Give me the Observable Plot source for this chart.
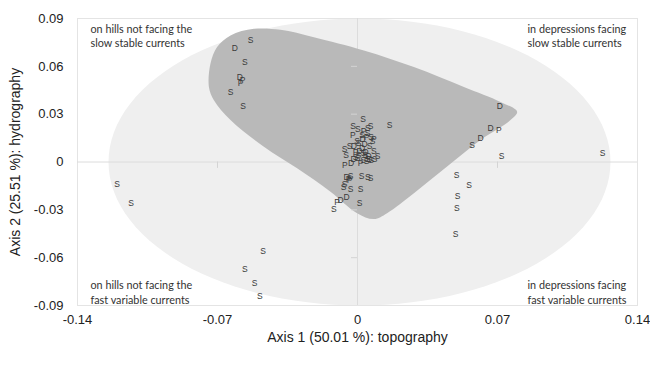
<!DOCTYPE html>
<html>
<head>
<meta charset="utf-8">
<script src="https://cdn.jsdelivr.net/npm/d3@7"></script>
<script src="https://cdn.jsdelivr.net/npm/@observablehq/plot@0.6"></script>
<style>
  body { margin: 0; background: #fff; }
  #chart svg { display: block; }
</style>
</head>
<body>
<div id="chart"></div>
<script>
// --- data ---
const xTicks = [-0.14, -0.07, 0, 0.07, 0.14];
const yTicks = [-0.09, -0.06, -0.03, 0, 0.03, 0.06, 0.09];
const xTitle = "Axis 1 (50.01 %): topography";
const yTitle = "Axis 2 (25.51 %): hydrography";

// sample labels and PCA coordinates
const labels = [
  "S","D","S","D","P","P","S","S",
  "D","D","P","D","S","S","S",
  "S","S","S","S","S",
  "S","S","S","S","S","S",
  "S","S","S","S","S","P","S","P","S","P","S","S","D","D","S","S","D","S","S","P","D","S","S","D","S","S","S","S","D","P","S","S","S","S","S","D","D","P","S","S","S",
  "S","D","S","P","S","D","S","D","S","P","S","D","S","P","S","D","S","S","P","S"
];
const xs = [
  -0.0535,-0.0613,-0.0563,-0.0588,-0.0575,-0.0585,-0.0635,-0.0572,
  0.0712,0.0665,0.0707,0.0615,0.0573,0.0720,0.1225,
  0.0495,0.0558,0.0500,0.0497,0.0490,
  -0.1202,-0.1132,-0.0472,-0.0563,-0.0515,-0.0488,
  0.0028,0.0160,-0.0022,0.0002,0.0052,-0.0023,0.0023,0.0045,0.0068,0.0082,0.0075,-0.0002,-0.0018,0.0023,-0.0065,-0.0057,0.0010,0.0030,0.0082,-0.0063,-0.0032,0.0028,0.0050,0.0060,0.0068,-0.0010,-0.0035,0.0052,-0.0055,-0.0045,0.0065,-0.0065,-0.0035,-0.0070,0.0015,-0.0055,-0.0085,-0.0102,-0.0118,0.0010,0.0100,
  0.0005,0.0035,0.0060,-0.0010,0.0040,0.0055,0.0000,-0.0020,0.0045,0.0015,0.0085,0.0025,0.0050,0.0030,0.0065,0.0040,-0.0040,0.0020,-0.0040,0.0005
];
const ys = [
  0.0763,0.0715,0.0623,0.0529,0.0515,0.0495,0.0435,0.0352,
  0.0350,0.0210,0.0200,0.0148,0.0106,0.0038,0.0056,
  -0.0081,-0.0148,-0.0213,-0.0288,-0.0456,
  -0.0140,-0.0258,-0.0560,-0.0671,-0.0763,-0.0842,
  0.0267,0.0233,0.0221,0.0206,0.0210,0.0165,0.0169,0.0154,0.0158,0.0144,0.0130,0.0127,0.0096,0.0085,0.0081,0.0044,0.0070,0.0055,0.0065,-0.0019,-0.0008,0.0013,0.0020,0.0015,0.0013,0.0030,-0.0092,-0.0096,-0.0098,-0.0108,-0.0100,-0.0140,-0.0169,-0.0160,-0.0171,-0.0223,-0.0238,-0.0254,-0.0296,-0.0258,0.0038,
  0.0120,0.0110,0.0100,0.0060,0.0040,0.0035,0.0025,0.0020,0.0005,-0.0005,0.0020,0.0140,0.0180,0.0190,0.0225,0.0060,0.0100,-0.0090,-0.0115,0.0045
];

// shaded envelope of the samples
const hullX = [-0.0743,-0.0735,-0.0702,-0.0635,-0.0518,-0.0385,-0.0218,0.0032,0.0282,0.0532,0.0715,0.0798,0.0765,0.0615,0.0448,0.0282,0.0148,0.0082,-0.0002,-0.0135,-0.0302,-0.0468,-0.0635,-0.0718];
const hullY = [0.0471,0.0617,0.0721,0.0794,0.0835,0.0829,0.0783,0.0700,0.0596,0.0471,0.0377,0.0315,0.0263,0.0138,-0.0029,-0.0196,-0.0321,-0.0358,-0.0321,-0.0186,-0.0039,0.0096,0.0263,0.0388];

// background ellipse: centre and radii (data units)
const ellipseCenter = [0.001, 0];
const ellipseRadii = [0.1255, 0.09];

// quadrant captions
const captionTL = "on hills not facing the\nslow stable currents";
const captionTR = "in depressions facing\nslow stable currents";
const captionBL = "on hills not facing the\nfast variable currents";
const captionBR = "in depressions facing\nfast variable currents";

// --- build ---
const points = labels.map((l, i) => ({label: l, x: xs[i], y: ys[i]}));
const hull = hullX.map((x, i) => ({x, y: hullY[i]}));
const ell = d3.range(0, 360, 3).map(a => {
  const t = a * Math.PI / 180;
  return {x: ellipseCenter[0] + ellipseRadii[0] * Math.cos(t), y: ellipseCenter[1] + ellipseRadii[1] * Math.sin(t)};
});

const font = "'Liberation Sans', Arial, sans-serif";
const capFont = "Lato, 'Open Sans', sans-serif";
const fmt = d => d === 0 ? "0" : String(d);
const cap = (t, anchor, dx, dy) => Plot.text([t], {frameAnchor: anchor, text: d => d, fontSize: 10.8, lineHeight: 1.35,
  fontFamily: capFont, fill: "#333", dx, dy, textAnchor: "start"});

const chart = Plot.plot({
  width: 650,
  height: 352,
  marginLeft: 77,
  marginRight: 13,
  marginTop: 18,
  marginBottom: 47,
  style: {fontFamily: font, background: "#fff"},
  x: {domain: [-0.14, 0.14]},
  y: {domain: [-0.09, 0.09]},
  marks: [
    Plot.line(ell, {x: "x", y: "y", fill: "#efefef", stroke: "none", curve: "linear-closed"}),
    Plot.frame({stroke: "#e4e4e4"}),
    Plot.ruleX([0], {stroke: "#dcdcdc"}),
    Plot.ruleY([0], {stroke: "#dcdcdc"}),
    Plot.line(hull, {x: "x", y: "y", fill: "#b9b9b9", stroke: "none", curve: "catmull-rom-closed"}),
    Plot.ruleX([-0.07, 0.07], {y1: 0, y2: -0.004, stroke: "#d4d4d4"}),
    Plot.ruleY([-0.06, -0.03, 0.03, 0.06], {x1: 0, x2: -0.003, stroke: "#d4d4d4"}),
    Plot.text(points, {x: "x", y: "y", text: "label", fontSize: 8.5, fill: "#3a3a3a", fontFamily: font}),
    Plot.axisX({ticks: xTicks, tickFormat: fmt, tickSize: 0, tickPadding: 9, fontSize: 13, label: null, fill: "#222"}),
    Plot.axisY({ticks: yTicks, tickFormat: fmt, tickSize: 0, tickPadding: 14, fontSize: 13, label: null, fill: "#222"}),
    Plot.text([xTitle], {frameAnchor: "bottom", dy: 36, fontSize: 14, fill: "#222", text: d => d}),
    Plot.text([yTitle], {frameAnchor: "left", dx: -62, rotate: -90, textAnchor: "middle", fontSize: 14, fill: "#222", text: d => d}),
    cap(captionTL, "top-left", 13, 4),
    cap(captionTR, "top-right", -110, 4),
    cap(captionBL, "bottom-left", 13, -2),
    cap(captionBR, "bottom-right", -110, -2)
  ]
});
document.getElementById("chart").appendChild(chart);
</script>
</body>
</html>
